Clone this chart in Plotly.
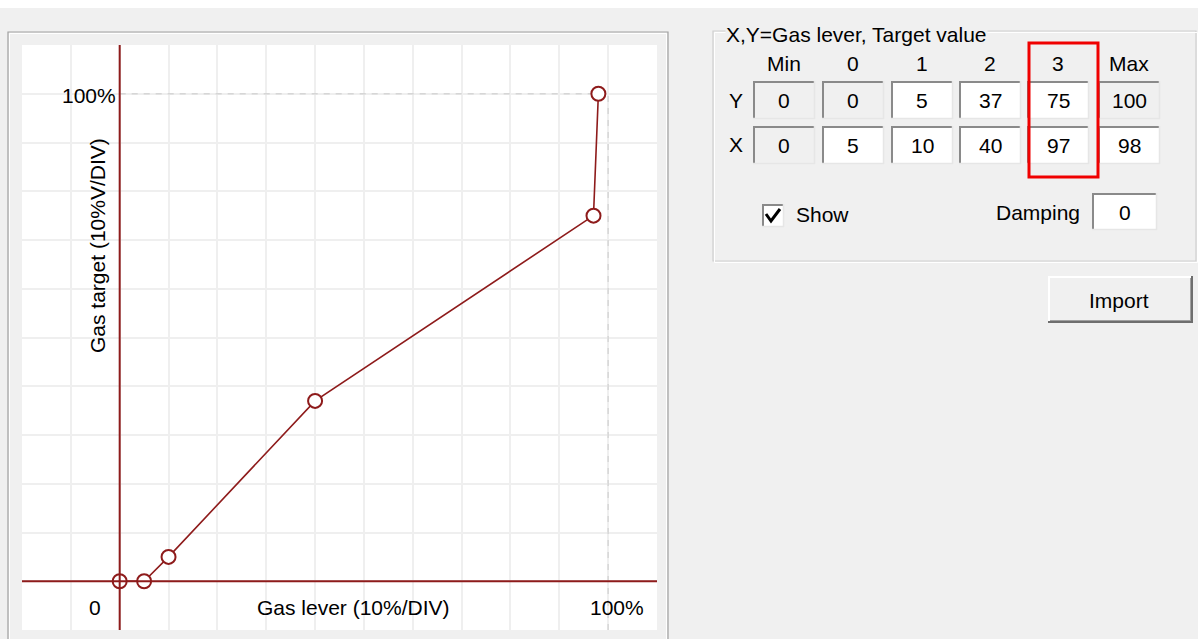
import plotly.graph_objects as go

# ---- data ----
columns = ["Min", "0", "1", "2", "3", "Max"]
y_target = [0, 0, 5, 37, 75, 100]
x_lever = [0, 5, 10, 40, 97, 98]
damping = 0
x_range = [-20, 110]
y_range = [-10, 110]

# ---- geometry helpers (pixels -> paper) ----
W, H = 1198, 639
L, R, T, B = 22, 657, 45, 630


def px(x):
    return (x - L) / (R - L)


def py(y):
    return (B - y) / (B - T)


RED = "#8E1B1B"
FONT = "Liberation Sans"
FS = 21

fig = go.Figure()
fig.add_trace(go.Scatter(
    x=x_lever, y=y_target, mode="lines+markers",
    line=dict(color=RED, width=1.6),
    marker=dict(symbol="circle", size=14, color="white",
                line=dict(color=RED, width=2)),
    hoverinfo="x+y", showlegend=False,
))

shapes = []
annotations = []


def rect(x0, y0, x1, y1, fill=None, line=None, lw=1, layer="above"):
    shapes.append(dict(type="rect", xref="paper", yref="paper",
                       x0=px(x0), x1=px(x1), y0=py(y0), y1=py(y1),
                       fillcolor=fill if fill else "rgba(0,0,0,0)",
                       line=dict(color=line if line else "rgba(0,0,0,0)", width=lw if line else 0),
                       layer=layer))


def hline(x0, x1, y, color, lw=1, dash="solid", layer="above"):
    shapes.append(dict(type="line", xref="paper", yref="paper",
                       x0=px(x0), x1=px(x1), y0=py(y), y1=py(y),
                       line=dict(color=color, width=lw, dash=dash), layer=layer))


def vline(x, y0, y1, color, lw=1, dash="solid", layer="above"):
    shapes.append(dict(type="line", xref="paper", yref="paper",
                       x0=px(x), x1=px(x), y0=py(y0), y1=py(y1),
                       line=dict(color=color, width=lw, dash=dash), layer=layer))


def text(s, x, y, xanchor="center", size=FS, angle=0, bg=None):
    annotations.append(dict(text=s, xref="paper", yref="paper",
                            x=px(x), y=py(y), xanchor=xanchor, yanchor="middle",
                            showarrow=False, textangle=angle,
                            font=dict(family=FONT, size=size, color="#000000"),
                            bgcolor=bg if bg else "rgba(0,0,0,0)", borderpad=0))


# top white strip
rect(-5, -5, W + 5, 8, fill="white", layer="below")

# chart panel border
rect(8, 32, 668, 660, line="#A0A0A0", lw=1.2, layer="below")
rect(9.5, 33.5, 666.5, 660, line="#FFFFFF", lw=1, layer="below")

# dashed 100% reference lines (data coordinates)
shapes.append(dict(type="line", xref="x", yref="y", x0=0, x1=100, y0=100, y1=100,
                   line=dict(color="#D6D6D6", width=1.5, dash="6px,6px"), layer="between"))
shapes.append(dict(type="line", xref="x", yref="y", x0=100, x1=100, y0=y_range[0], y1=100,
                   line=dict(color="#D6D6D6", width=1.5, dash="6px,6px"), layer="between"))
# axes drawn over markers
shapes.append(dict(type="line", xref="x", yref="y", x0=x_range[0], x1=x_range[1], y0=0, y1=0,
                   line=dict(color=RED, width=2), layer="above"))
shapes.append(dict(type="line", xref="x", yref="y", x0=0, x1=0, y0=y_range[0], y1=y_range[1],
                   line=dict(color=RED, width=2), layer="above"))

# chart labels
text("100%", 89, 95)
text("Gas target (10%V/DIV)", 97, 246, angle=-90)
text("0", 95, 607)
text("Gas lever (10%/DIV)", 353, 607)
text("100%", 617, 607)

# ---- right group box ----
rect(713, 31, 1196, 261, line="#CFCFCF", lw=1.2, layer="below")
rect(714.5, 32.5, 1197.5, 262.5, line="#FFFFFF", lw=1, layer="below")
text("X,Y=Gas lever, Target value", 725, 34, xanchor="left", bg="#F0F0F0")

col_left = [753, 822, 891, 959, 1027, 1098]
box_w = 62
row_top = {"Y": 81, "X": 126}
box_h = 38

for i, c in enumerate(columns):
    text(c, col_left[i] + box_w / 2, 63)

text("Y", 736, 100)
text("X", 736, 145)


def sunken_box(x0, y0, w, h, fill):
    rect(x0, y0, x0 + w, y0 + h, fill=fill, layer="below")
    hline(x0, x0 + w, y0 + 1, "#8A8A8A", lw=2)
    vline(x0 + 1, y0, y0 + h, "#8A8A8A", lw=2)
    hline(x0, x0 + w, y0 + h - 0.5, "#E6E6E6", lw=1.5)
    vline(x0 + w - 0.5, y0, y0 + h, "#E6E6E6", lw=1.5)


disabled = {("Y", 0), ("Y", 1), ("Y", 5), ("X", 0)}
for row, vals in (("Y", y_target), ("X", x_lever)):
    for i, v in enumerate(vals):
        fill = "#F0F0F0" if (row, i) in disabled else "#FFFFFF"
        sunken_box(col_left[i], row_top[row], box_w, box_h, fill)
        text(str(v), col_left[i] + box_w / 2, row_top[row] + box_h / 2 + 0.5)

# red highlight rectangle around column "3"
rect(1029, 43, 1098, 177, line="#F00000", lw=3)

# checkbox "Show"
sunken_box(762, 204, 22, 23, "#FFFFFF")
shapes.append(dict(type="path", xref="paper", yref="paper",
                   path=f"M {px(766)},{py(214)} L {px(771)},{py(221)} L {px(780)},{py(209)}",
                   line=dict(color="#000000", width=3), layer="above"))
text("Show", 795, 215, xanchor="left")

# damping
text("Damping", 1081, 212, xanchor="right")
sunken_box(1092, 193, 65, 37, "#FFFFFF")
text(str(damping), 1124.5, 212)

# Import button
rect(1048, 276, 1193, 323, fill="#F0F0F0", layer="below")
hline(1048, 1193, 277, "#FFFFFF", lw=2)
vline(1049, 276, 323, "#FFFFFF", lw=2)
hline(1048, 1193, 322, "#6E6E6E", lw=2)
vline(1192, 276, 323, "#6E6E6E", lw=2)
hline(1050, 1191, 320.5, "#A0A0A0", lw=1)
vline(1190.5, 278, 321, "#A0A0A0", lw=1)
text("Import", 1119, 300)

fig.update_layout(
    width=W, height=H,
    margin=dict(l=L, r=W - R, t=T, b=H - B, pad=0),
    paper_bgcolor="#F0F0F0", plot_bgcolor="#FFFFFF",
    xaxis=dict(range=x_range, tick0=0, dtick=10, showgrid=True, gridcolor="#EFEFEF",
               gridwidth=2, zeroline=False, showticklabels=False, ticks="",
               showline=False, fixedrange=True),
    yaxis=dict(range=y_range, tick0=0, dtick=10, showgrid=True, gridcolor="#EFEFEF",
               gridwidth=2, zeroline=False, showticklabels=False, ticks="",
               showline=False, fixedrange=True),
    shapes=shapes, annotations=annotations, showlegend=False,
    font=dict(family=FONT, size=FS, color="#000000"),
)

fig.write_html("out.html", config={"displayModeBar": False},
               post_script="document.body.style.margin='0';document.body.style.padding='0';document.body.style.overflow='hidden';")
